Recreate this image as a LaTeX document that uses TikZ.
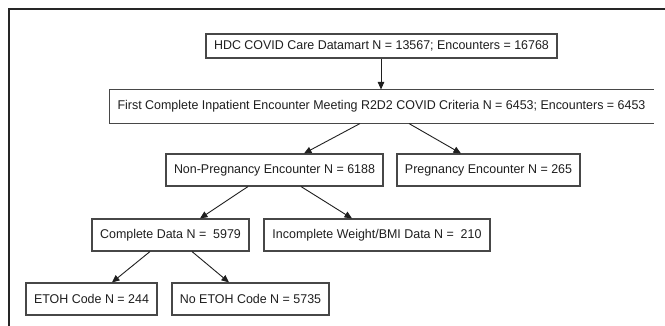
\documentclass[tikz,border=0pt]{standalone}
\usepackage{fontspec}
\setmainfont{Liberation Sans}[FakeStretch=0.98]
\usetikzlibrary{arrows.meta}
\begin{document}
\begin{tikzpicture}[x=1pt,y=-1pt,
  box/.style={draw=black!72,line width=1.1pt,inner sep=0pt,text=black!88,
    font=\fontsize{12.7}{14}\selectfont},
  arr/.style={draw=black!88,line width=0.9pt,-{Triangle[length=7.5pt,width=6.5pt]}}]
\useasboundingbox (0,0) rectangle (665,326);
\fill[white] (0,0) rectangle (665,326);
\draw[black!85,line width=2.6pt] (9,326) -- (9,9) -- (665,9);
% boxes: centre and size
\node[box,minimum width=351pt,minimum height=24pt] (hdc) at (381.5,46) {HDC COVID Care Datamart N = 13567; Encounters = 16768};
\node[box,draw=none,minimum width=543pt,minimum height=33pt] (first) at (381.5,106.5) {First Complete Inpatient Encounter Meeting R2D2 COVID Criteria N = 6453; Encounters = 6453};
\draw[black!72,line width=1.1pt] (first.north east) -- (first.north west) -- (first.south west) -- (first.south east);
\node[box,minimum width=217pt,minimum height=32pt] (np) at (274.5,170) {Non-Pregnancy Encounter N = 6188};
\node[box,minimum width=183pt,minimum height=32pt] (pr) at (488.5,170) {Pregnancy Encounter N = 265};
\node[box,minimum width=157pt,minimum height=32pt] (cd) at (170.5,235) {Complete Data N =\ \ 5979};
\node[box,minimum width=226pt,minimum height=32pt] (inc) at (377,235) {Incomplete Weight/BMI Data N =\ \ 210};
\node[box,minimum width=131pt,minimum height=32pt] (et) at (91.5,299) {ETOH Code N = 244};
\node[box,minimum width=157pt,minimum height=32pt] (net) at (250.5,299) {No ETOH Code N = 5735};
% connectors
\draw[arr] ([xshift=-0.5pt]hdc.south) -- ([xshift=-0.5pt]first.north);
\draw[arr] ([xshift=-21.5pt]first.south) -- ([xshift=29.5pt]np.north);
\draw[arr] ([xshift=27.5pt]first.south) -- ([xshift=-27.5pt]pr.north);
\draw[arr] ([xshift=-26.5pt]np.south) -- ([xshift=29.5pt]cd.north);
\draw[arr] ([xshift=26.5pt]np.south) -- ([xshift=-25pt]inc.north);
\draw[arr] ([xshift=-20.5pt]cd.south) -- ([xshift=20.5pt]et.north);
\draw[arr] ([xshift=21.5pt]cd.south) -- ([xshift=-21.5pt]net.north);
\end{tikzpicture}
\end{document}
